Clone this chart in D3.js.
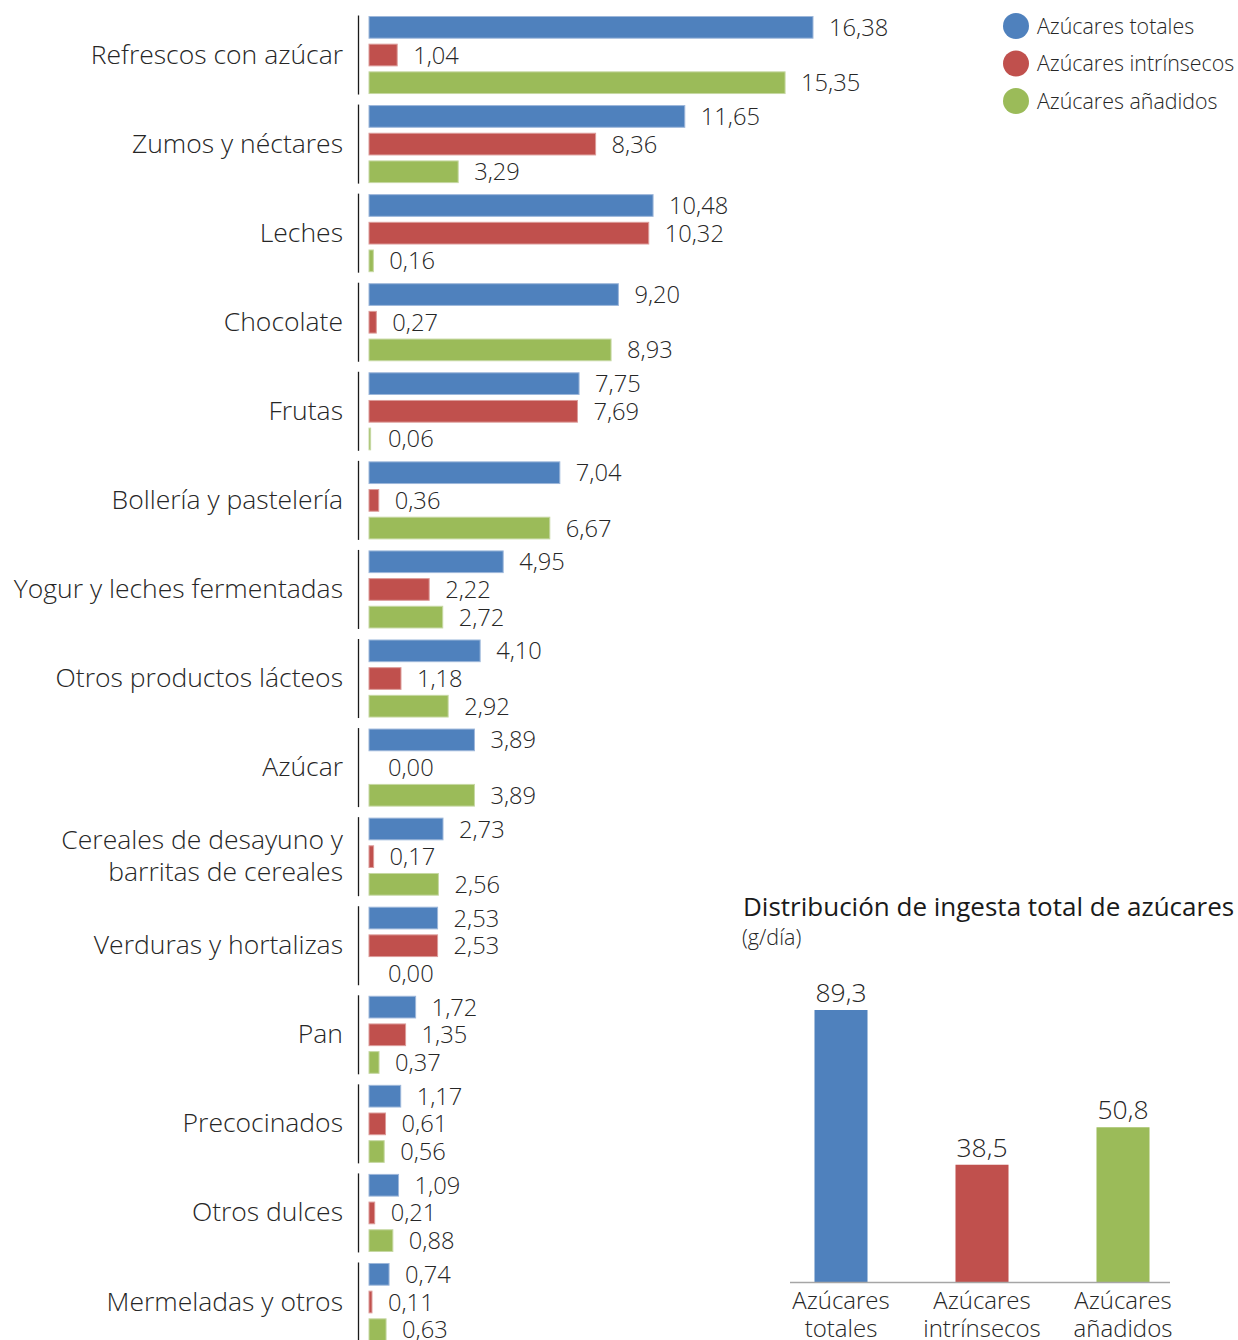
<!DOCTYPE html>
<html lang="es">
<head>
<meta charset="utf-8">
<script src="https://cdn.jsdelivr.net/npm/d3@7"></script>
<style>
  html, body { margin: 0; padding: 0; background: #fff; }
  svg { display: block; font-family: "Open Sans", sans-serif; }
</style>
</head>
<body>
<svg id="chart" width="1238" height="1340"></svg>
<script>
// Food groups (one entry per group; "\n" splits a label into two lines)
const categories = [
  "Refrescos con azúcar", "Zumos y néctares", "Leches", "Chocolate", "Frutas",
  "Bollería y pastelería", "Yogur y leches fermentadas", "Otros productos lácteos",
  "Azúcar", "Cereales de desayuno y\nbarritas de cereales", "Verduras y hortalizas",
  "Pan", "Precocinados", "Otros dulces", "Mermeladas y otros"
];
const seriesNames = ["Azúcares totales", "Azúcares intrínsecos", "Azúcares añadidos"];
const totales     = [16.38, 11.65, 10.48, 9.20, 7.75, 7.04, 4.95, 4.10, 3.89, 2.73, 2.53, 1.72, 1.17, 1.09, 0.74];
const intrinsecos = [1.04, 8.36, 10.32, 0.27, 7.69, 0.36, 2.22, 1.18, 0.00, 0.17, 2.53, 1.35, 0.61, 0.21, 0.11];
const anadidos    = [15.35, 3.29, 0.16, 8.93, 0.06, 6.67, 2.72, 2.92, 3.89, 2.56, 0.00, 0.37, 0.56, 0.88, 0.63];

// Daily total intake (g/día)
const totalLabels = ["Azúcares\ntotales", "Azúcares\nintrínsecos", "Azúcares\nañadidos"];
const totalValues = [89.3, 38.5, 50.8];

const colors = ["#4F81BD", "#C0504D", "#9BBB59"];
const edges  = ["#9DB7DA", "#DC9B99", "#C6D8A3"];
const textColor = "#262626";
const fmt = v => v.toFixed(2).replace(".", ",");
const fmt1 = v => v.toFixed(1).replace(".", ",");

const svg = d3.select("#chart");
const values = [totales, intrinsecos, anadidos];

// ---- Main grouped horizontal bars ----
const x = d3.scaleLinear().domain([0, 16.38]).range([369, 813]);
const yGroup = d3.scaleBand().domain(categories)
  .range([16.5, 16.5 + 89.07 * (15 - 0.135)]).paddingInner(0.135).paddingOuter(0);
const ySub = d3.scaleBand().domain(seriesNames)
  .range([0, yGroup.bandwidth()]).paddingInner(0.216).paddingOuter(0);

const groups = svg.append("g").selectAll("g.grp")
  .data(categories)
  .join("g")
  .attr("class", "grp")
  .attr("transform", d => `translate(0,${yGroup(d)})`);

// separator line to the left of each group
groups.append("line")
  .attr("x1", 358.5).attr("x2", 358.5)
  .attr("y1", -1).attr("y2", yGroup.bandwidth() + 1)
  .attr("stroke", "#1a1a1a").attr("stroke-width", 1.3);

// category labels
groups.each(function(d) {
  const lines = d.split("\n");
  const g = d3.select(this);
  const cy = yGroup.bandwidth() / 2 - 1;
  const lh = 32;
  lines.forEach((ln, i) => {
    g.append("text")
      .attr("x", 343)
      .attr("y", cy + (i - (lines.length - 1) / 2) * lh)
      .attr("dy", "0.36em")
      .attr("text-anchor", "end")
      .attr("font-size", 26.5)
      .attr("font-weight", 300)
      .attr("fill", textColor)
      .text(ln);
  });
});

// bars and value labels
groups.each(function(cat, ci) {
  const g = d3.select(this);
  seriesNames.forEach((s, si) => {
    const v = values[si][ci];
    const w = x(v) - x(0);
    const yy = ySub(s);
    if (w > 0) {
      g.append("rect")
        .attr("x", x(0)).attr("y", yy)
        .attr("width", Math.max(w, 1.5)).attr("height", ySub.bandwidth())
        .attr("fill", colors[si])
        .attr("stroke", edges[si]).attr("stroke-width", 1);
    }
    g.append("text")
      .attr("x", x(0) + Math.max(w, 3) + 16)
      .attr("y", yy + ySub.bandwidth() / 2)
      .attr("dy", "0.36em")
      .attr("font-size", 23.7)
      .attr("font-weight", 300)
      .attr("fill", textColor)
      .text(fmt(v));
  });
});

// ---- Legend ----
const legend = svg.append("g").selectAll("g")
  .data(seriesNames)
  .join("g")
  .attr("transform", (d, i) => `translate(1016,${26 + i * 37.5})`);
legend.append("circle").attr("r", 13).attr("fill", (d, i) => colors[i]);
legend.append("text")
  .attr("x", 21).attr("dy", "0.36em")
  .attr("font-size", 21.4).attr("font-weight", 300)
  .attr("fill", textColor)
  .text(d => d);

// ---- Inset: total intake ----
const inset = svg.append("g");
inset.append("text")
  .attr("x", 743).attr("y", 916)
  .attr("font-size", 26).attr("fill", "#1a1a1a")
  .text("Distribución de ingesta total de azúcares");
inset.append("text")
  .attr("x", 742).attr("y", 945)
  .attr("font-size", 21.5).attr("font-weight", 300).attr("fill", textColor)
  .text("(g/día)");

const xb = d3.scaleBand().domain(totalLabels)
  .range([770.5, 1193.5]).paddingInner(0.624).paddingOuter(0.312);
const yb = d3.scaleLinear().domain([0, 89.3]).range([1282, 1010]);

inset.selectAll("rect.tot")
  .data(totalValues)
  .join("rect")
  .attr("class", "tot")
  .attr("x", (d, i) => xb(totalLabels[i]))
  .attr("y", d => yb(d))
  .attr("width", xb.bandwidth())
  .attr("height", d => yb(0) - yb(d))
  .attr("fill", (d, i) => colors[i]);

inset.selectAll("text.tv")
  .data(totalValues)
  .join("text")
  .attr("class", "tv")
  .attr("x", (d, i) => xb(totalLabels[i]) + xb.bandwidth() / 2)
  .attr("y", d => yb(d) - 8)
  .attr("text-anchor", "middle")
  .attr("font-size", 26.5).attr("font-weight", 300).attr("fill", textColor)
  .text(d => fmt1(d));

inset.append("line")
  .attr("x1", 790).attr("x2", 1170)
  .attr("y1", yb(0) + 0.5).attr("y2", yb(0) + 0.5)
  .attr("stroke", "#a6a6a6").attr("stroke-width", 1.5);

totalLabels.forEach((lab, i) => {
  lab.split("\n").forEach((ln, j) => {
    inset.append("text")
      .attr("x", xb(lab) + xb.bandwidth() / 2)
      .attr("y", 1309 + j * 28)
      .attr("text-anchor", "middle")
      .attr("font-size", 24).attr("font-weight", 300).attr("fill", textColor)
      .text(ln);
  });
});
</script>
</body>
</html>
